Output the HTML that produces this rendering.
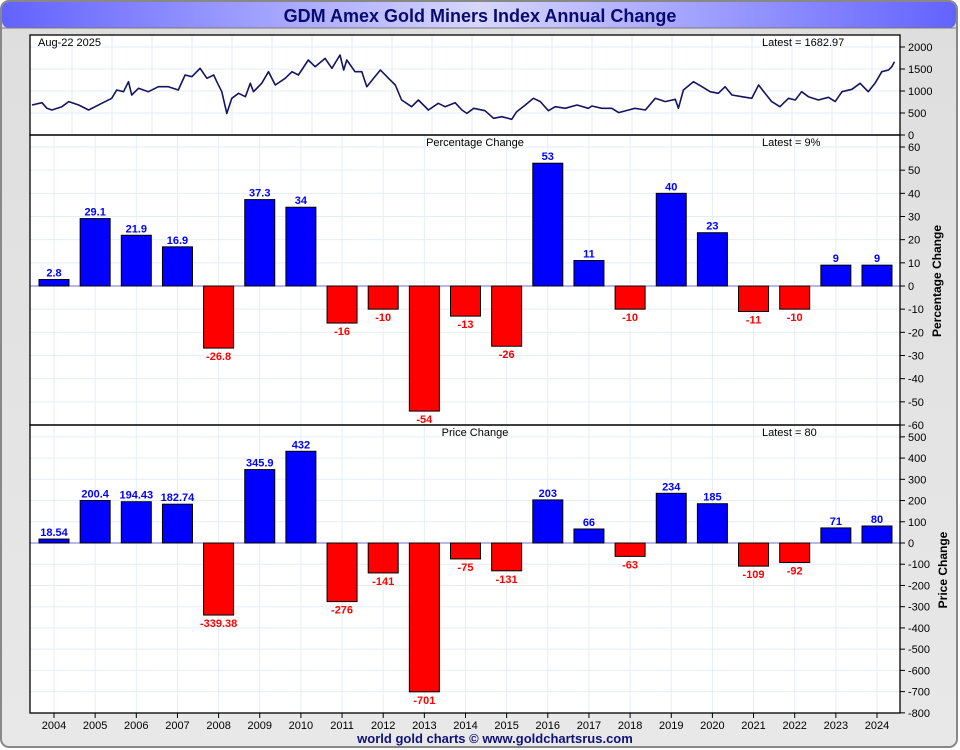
<!DOCTYPE html>
<html><head><meta charset="utf-8"><style>
html,body{margin:0;padding:0;background:#fff}
svg{display:block;font-family:"Liberation Sans",sans-serif}
</style></head><body>
<svg id="chart" width="960" height="750" viewBox="0 0 960 750">
<defs>
<linearGradient id="tg" x1="0" x2="1" y1="0" y2="0">
<stop offset="0" stop-color="#6262ff"/><stop offset="0.5" stop-color="#d6d6ff"/><stop offset="1" stop-color="#6262ff"/>
</linearGradient>
<linearGradient id="bg" x1="0" x2="0" y1="0" y2="1">
<stop offset="0" stop-color="#dedede"/><stop offset="1" stop-color="#e8e8e8"/>
</linearGradient>
</defs>
<rect x="1" y="1" width="956" height="746" rx="8" fill="url(#bg)" stroke="#888" stroke-width="2"/>
<rect x="2" y="2" width="954" height="26" rx="7" fill="url(#tg)"/>
<line x1="2" y1="28" x2="956" y2="28" stroke="#777" stroke-width="1"/>
<text x="480" y="22" text-anchor="middle" font-size="18" font-weight="bold" fill="#0a0a6e">GDM Amex Gold Miners Index Annual Change</text>
<rect x="30" y="35" width="870" height="678" fill="#fff"/>
<g id="grid"></g>
<g id="marks"></g>
<g id="axes"></g>
<text x="495" y="743" text-anchor="middle" font-size="13" font-weight="bold" fill="#10107a">world gold charts © www.goldchartsrus.com</text>
</svg>
<script>
const years = ["2004","2005","2006","2007","2008","2009","2010","2011","2012","2013","2014","2015","2016","2017","2018","2019","2020","2021","2022","2023","2024"];
const pctChange = [2.8,29.1,21.9,16.9,-26.8,37.3,34,-16,-10,-54,-13,-26,53,11,-10,40,23,-11,-10,9,9];
const pctLabels = ["2.8","29.1","21.9","16.9","-26.8","37.3","34","-16","-10","-54","-13","-26","53","11","-10","40","23","-11","-10","9","9"];
const priceChange = [18.54,200.4,194.43,182.74,-339.38,345.9,432,-276,-141,-701,-75,-131,203,66,-63,234,185,-109,-92,71,80];
const priceLabels = ["18.54","200.4","194.43","182.74","-339.38","345.9","432","-276","-141","-701","-75","-131","203","66","-63","234","185","-109","-92","71","80"];
const lineTimes = [2006.56,2006.78,2006.89,2007.0,2007.22,2007.37,2007.59,2007.81,2008.10,2008.32,2008.43,2008.58,2008.69,2008.76,2008.91,2009.13,2009.35,2009.57,2009.79,2009.94,2010.09,2010.27,2010.42,2010.57,2010.64,2010.75,2010.86,2010.97,2011.12,2011.27,2011.38,2011.45,2011.63,2011.78,2011.93,2012.15,2012.30,2012.44,2012.66,2012.81,2013.03,2013.18,2013.36,2013.44,2013.51,2013.69,2013.84,2013.95,2014.10,2014.25,2014.43,2014.58,2014.72,2014.94,2015.09,2015.31,2015.53,2015.68,2015.90,
2016.05,2016.16,2016.31,2016.56,2016.75,2016.93,2017.15,2017.26,2017.45,2017.63,2017.78,2017.96,2018.11,2018.33,2018.59,2018.84,2018.92,2019.14,2019.36,2019.51,2019.73,2019.87,2020.10,2020.32,2020.54,2020.76,2020.83,2020.94,2021.16,2021.35,2021.53,2021.71,2021.86,2022.01,2022.23,2022.45,2022.60,2022.74,2022.89,2023.07,2023.26,2023.41,2023.55,2023.70,2023.92,2024.14,2024.29,2024.44,2024.66,2024.84,2025.02,2025.17,2025.32,2025.47,2025.54,2025.60];
const lineValues = [682,735,606,568,644,758,682,568,720,833,1023,985,1212,909,1061,985,1098,1098,1023,1364,1326,1515,1288,1364,1212,985,492,833,947,871,1174,985,1174,1439,1136,1288,1439,1364,1705,1553,1742,1515,1818,1477,1705,1439,1439,1098,1288,1477,1288,1136,795,644,795,568,720,644,735,
568,492,606,553,379,417,356,530,682,833,758,553,644,606,682,606,659,606,606,508,568,606,568,833,758,811,606,1023,1212,1098,985,947,1098,909,871,833,1136,947,758,644,833,795,985,871,795,856,758,985,1038,1174,985,1174,1439,1477,1553,1667];
const topTicks = [0,500,1000,1500,2000];
const pctTicks = [60,50,40,30,20,10,0,-10,-20,-30,-40,-50,-60];
const priceTicks = [500,400,300,200,100,0,-100,-200,-300,-400,-500,-600,-700,-800];

const NS="http://www.w3.org/2000/svg";
function mk(tag,attrs,parent,text){const e=document.createElementNS(NS,tag);for(const k in attrs)e.setAttribute(k,attrs[k]);if(text!==undefined)e.textContent=text;parent.appendChild(e);return e;}
const grid=document.getElementById('grid'),marks=document.getElementById('marks'),axes=document.getElementById('axes');
const L=30,R=900;
const xCat=i=>54+i*41.15;
const yTop=v=>135-v*(88/2000);
const yPct=v=>286-v*(278/120);
const yPrice=v=>543-v*(276/1300);
const xTime=t=>32+(t-2006.56)*45.3;

// grids
for(let i=0;i<years.length;i++){
  const g=mk('line',{x1:xCat(i),x2:xCat(i),y1:135,y2:713,stroke:'#e4eef8','stroke-width':1},grid);
  
}
for(let x=72;x<R;x+=40){const g=mk('line',{x1:x,x2:x,y1:35,y2:135,stroke:'#e4eef8'},grid);
  }
topTicks.forEach(v=>{const g=mk('line',{x1:L,x2:R,y1:yTop(v),y2:yTop(v),stroke:'#e4eef8'},grid);});
pctTicks.forEach(v=>{const g=mk('line',{x1:L,x2:R,y1:yPct(v),y2:yPct(v),stroke:'#e4eef8'},grid);});
priceTicks.forEach(v=>{const g=mk('line',{x1:L,x2:R,y1:yPrice(v),y2:yPrice(v),stroke:'#e4eef8'},grid);});

// top line
let d='';lineTimes.forEach((t,i)=>{d+=(i?'L':'M')+xTime(t).toFixed(1)+' '+yTop(lineValues[i]).toFixed(1);});
const pl=mk('path',{d:d,fill:'none',stroke:'#141460','stroke-width':1.6,'stroke-linejoin':'round'},marks);


// bars
function bars(vals,labs,yf,nm){
  const z0=mk('line',{x1:L,x2:R,y1:yf(0),y2:yf(0),stroke:'#7070d0','stroke-width':1},marks);
  
  vals.forEach((v,i)=>{
    const x=xCat(i)-15,y0=yf(0),y1=yf(v);
    const r=mk('rect',{x:x,y:Math.min(y0,y1),width:30,height:Math.abs(y1-y0),fill:v>=0?'#0000ff':'#ff0000',stroke:'#000','stroke-width':1},marks);
    
    
    const t=mk('text',{x:xCat(i),y:v>=0?y1-3:y1+12,'text-anchor':'middle','font-size':11,'font-weight':'bold',fill:v>=0?'#0000ff':'#ff0000'},marks,labs[i]);
    
    
  });
}
bars(pctChange,pctLabels,yPct,'pct');
bars(priceChange,priceLabels,yPrice,'price');

// panel borders
[[35,135],[135,425],[425,713]].forEach(p=>{const r=mk('rect',{x:L,y:p[0],width:R-L,height:p[1]-p[0],fill:'none',stroke:'#000','stroke-width':1.3},axes);
  });
// right axis ticks
function ticks(arr,yf,nm){arr.forEach(v=>{const y=yf(v);
  mk('line',{x1:R,x2:R+5,y1:y,y2:y,stroke:'#000'},axes);
  const t=mk('text',{x:R+8,y:y+4,'font-size':11,fill:'#000'},axes,String(v));
  });}
ticks(topTicks,yTop,'top');ticks(pctTicks,yPct,'pct');ticks(priceTicks,yPrice,'price');
years.forEach((y,i)=>{mk('line',{x1:xCat(i),x2:xCat(i),y1:713,y2:718,stroke:'#000'},axes);
  const t=mk('text',{x:xCat(i),y:729,'text-anchor':'middle','font-size':11,fill:'#000'},axes,y);
  });
function txt(x,y,s,attrs,nm){const t=mk('text',Object.assign({x:x,y:y,'font-size':11,fill:'#000'},attrs||{}),axes,s);return t;}
txt(38,46,'Aug-22  2025',{},'date-label');
txt(762,46,'Latest = 1682.97',{},'top-latest-label');
txt(475,146,'Percentage Change',{'text-anchor':'middle'},'pct-panel-title');
txt(762,146,'Latest = 9%',{},'pct-latest-label');
txt(475,436,'Price Change',{'text-anchor':'middle'},'price-panel-title');
txt(762,436,'Latest = 80',{},'price-latest-label');
txt(0,0,'Percentage Change',{'font-size':12,'font-weight':'bold','text-anchor':'middle',transform:'translate(941,281) rotate(-90)'},'pct-axis-title');
txt(0,0,'Price Change',{'font-size':12,'font-weight':'bold','text-anchor':'middle',transform:'translate(947,570) rotate(-90)'},'price-axis-title');
</script>
</body></html>
